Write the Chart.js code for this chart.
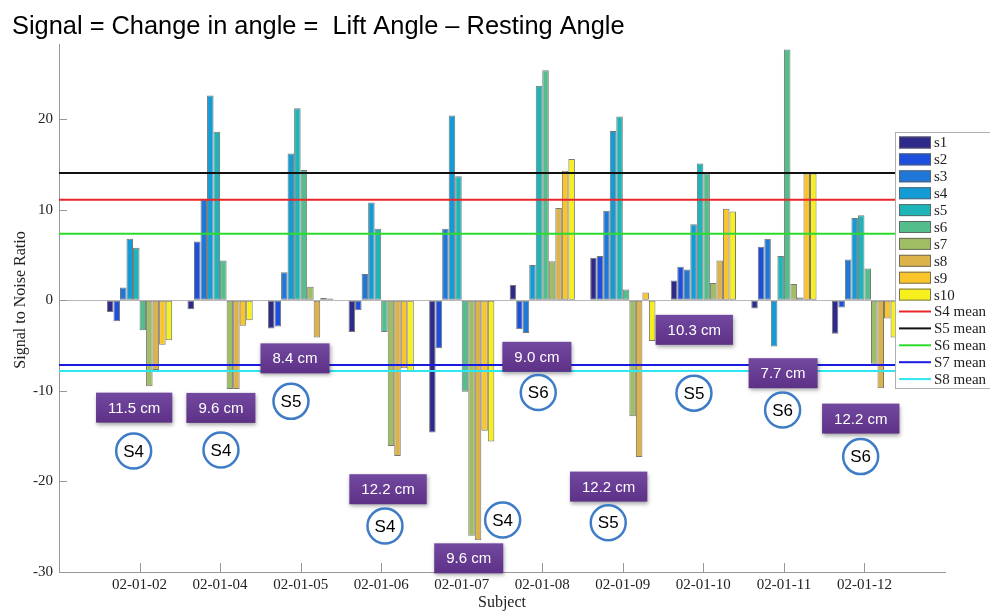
<!DOCTYPE html>
<html>
<head>
<meta charset="utf-8">
<script src="https://cdn.jsdelivr.net/npm/chart.js@4.4.0/dist/chart.umd.min.js"></script>
<style>
  html, body { margin: 0; padding: 0; background: #fff; }
  #wrap { width: 990px; height: 611px; }
</style>
</head>
<body>
<div id="wrap"><canvas id="chart" width="990" height="611"></canvas></div>
<script>
// subjects along the x axis
const subjects = ['02-01-02', '02-01-04', '02-01-05', '02-01-06', '02-01-07',
                  '02-01-08', '02-01-09', '02-01-10', '02-01-11', '02-01-12'];

// signal to noise ratio per sensor, one value per subject
const s1  = [-1.3, -1.0, -3.1, -3.5, -14.6,  1.7,   4.7,  2.2, -0.9, -3.7];
const s2  = [-2.3,  6.5, -2.9, -1.1,  -5.3, -3.2,   4.9,  3.7,  5.9, -0.8];
const s3  = [ 1.4, 11.1,  3.1,  2.9,   7.9, -3.6,   9.9,  3.4,  6.8,  4.5];
const s4  = [ 6.8, 22.6, 16.2, 10.8,  20.4,  3.9,  18.7,  8.4, -5.1,  9.1];
const s5  = [ 5.8, 18.6, 21.2,  7.9,  13.7, 23.7,  20.3, 15.1,  4.9,  9.4];
const s6  = [-3.3,  4.4, 14.4, -3.5, -10.1, 25.4,   1.2, 14.0, 27.7,  3.5];
const s7  = [-9.5, -9.8,  1.5, -16.1, -26.0, 4.3, -12.8,  1.9,  1.8, -7.0];
const s8  = [-7.7, -9.8, -4.1, -17.2, -26.5, 10.2, -17.3, 4.4,  0.3, -9.7];
const s9  = [-4.9, -2.8, 0.25, -7.5, -14.4, 14.3,  0.85, 10.1, 14.0, -2.0];
const s10 = [-4.4, -2.2, 0.2,  -7.8, -15.6, 15.6,  -4.5,  9.8, 14.0, -4.1];

const seriesNames = ['s1', 's2', 's3', 's4', 's5', 's6', 's7', 's8', 's9', 's10'];
const seriesValues = [s1, s2, s3, s4, s5, s6, s7, s8, s9, s10];
const seriesColors = ['#2e2a8a', '#1c4fdc', '#1f78d8', '#139bd6', '#1db5b8',
                      '#53bd8c', '#9fbd62', '#dcb24a', '#f9c52b', '#f7f01c'];

// mean reference lines
const meanNames = ['S4 mean', 'S5 mean', 'S6 mean', 'S7 mean', 'S8 mean'];
const meanValues = [11.1, 14.05, 7.35, -7.15, -7.8];
const meanColors = ['#e8262a', '#111111', '#2bdc2b', '#1a1ae0', '#2ee6ee'];

const yTicks = [-30, -20, -10, 0, 10, 20];

// callouts: text, x (subject units), y (value units)
const boxNotes = [
  ['11.5 cm', 0.933, -11.85], ['9.6 cm', 2.01, -11.88], ['8.4 cm', 2.93, -6.41],
  ['12.2 cm', 4.085, -20.86], ['9.6 cm', 5.087, -28.49], ['9.0 cm', 5.933, -6.24],
  ['12.2 cm', 6.824, -20.57], ['10.3 cm', 7.887, -3.26], ['7.7 cm', 8.99, -8.05],
  ['12.2 cm', 9.954, -13.06]
];
const circleNotes = [
  ['S4', 0.927, -16.63], ['S4', 2.011, -16.52], ['S5', 2.88, -11.16],
  ['S4', 4.047, -24.92], ['S4', 5.508, -24.25], ['S6', 5.95, -10.19],
  ['S5', 6.819, -24.55], ['S5', 7.883, -10.25], ['S6', 8.984, -12.1],
  ['S6', 9.953, -17.26]
];

const serif = '"Liberation Serif", "Times New Roman", serif';
const sans = '"Liberation Sans", Arial, sans-serif';

const datasets = seriesValues.map((vals, i) => ({
  type: 'bar',
  label: seriesNames[i],
  data: vals.map((v, j) => ({ x: j + 1, y: v })),
  backgroundColor: seriesColors[i],
  borderColor: 'rgba(95, 95, 95, 0.85)',
  borderWidth: 1,
  borderSkipped: false,
  categoryPercentage: 0.81,
  barPercentage: 1.0
}));

meanValues.forEach((m, i) => {
  datasets.push({
    type: 'line',
    label: meanNames[i],
    data: [{ x: 0, y: m }, { x: 11, y: m }],
    borderColor: meanColors[i],
    borderWidth: 2,
    pointRadius: 0,
    order: -1
  });
});

const overlay = {
  id: 'overlay',
  beforeDatasetsDraw(chart) {
    const { ctx, chartArea: a, scales: { x, y } } = chart;
    ctx.save();
    ctx.lineWidth = 1;
    ctx.strokeStyle = '#b8b8b8';
    const y0 = Math.round(y.getPixelForValue(0)) + 0.5;
    ctx.beginPath(); ctx.moveTo(a.left, y0); ctx.lineTo(a.right, y0); ctx.stroke();

    ctx.strokeStyle = '#999';
    yTicks.forEach(v => {
      const py = Math.round(y.getPixelForValue(v)) + 0.5;
      ctx.beginPath(); ctx.moveTo(a.left, py); ctx.lineTo(a.left + 8, py); ctx.stroke();
    });
    subjects.forEach((s, i) => {
      const px = Math.round(x.getPixelForValue(i + 1)) + 0.5;
      ctx.beginPath(); ctx.moveTo(px, a.bottom); ctx.lineTo(px, a.bottom - 9); ctx.stroke();
    });
    ctx.restore();
  },
  afterDraw(chart) {
    const { ctx, chartArea: a, scales: { x, y } } = chart;
    ctx.save();

    // title
    ctx.fillStyle = '#000';
    ctx.font = '25.4px ' + sans;
    ctx.textAlign = 'left';
    ctx.textBaseline = 'alphabetic';
    ctx.fillText('Signal = Change in angle =  Lift Angle \u2013 Resting Angle', 12, 34);

    // axis titles
    ctx.fillStyle = '#222';
    ctx.font = '16px ' + serif;
    ctx.textAlign = 'center';
    ctx.textBaseline = 'middle';
    ctx.fillText('Subject', (a.left + a.right) / 2, 603);
    ctx.save();
    ctx.translate(21, 300);
    ctx.rotate(-Math.PI / 2);
    ctx.fillText('Signal to Noise Ratio', 0, 0);
    ctx.restore();

    // purple distance boxes
    ctx.font = '15px ' + sans;
    boxNotes.forEach(([t, xv, yv]) => {
      const cx = x.getPixelForValue(xv), cy = y.getPixelForValue(yv);
      const w = ctx.measureText(t).width + 24, h = 30;
      ctx.save();
      ctx.shadowColor = 'rgba(0,0,0,0.35)';
      ctx.shadowBlur = 4;
      ctx.shadowOffsetX = 1;
      ctx.shadowOffsetY = 2;
      const g = ctx.createLinearGradient(0, cy - h / 2, 0, cy + h / 2);
      g.addColorStop(0, '#7348a0');
      g.addColorStop(1, '#5c3186');
      ctx.fillStyle = g;
      ctx.fillRect(cx - w / 2, cy - h / 2, w, h);
      ctx.restore();
      ctx.fillStyle = '#fff';
      ctx.fillText(t, cx, cy + 1);
    });

    // sensor circles
    ctx.font = '17px ' + sans;
    circleNotes.forEach(([t, xv, yv]) => {
      const cx = x.getPixelForValue(xv), cy = y.getPixelForValue(yv);
      ctx.beginPath();
      ctx.arc(cx, cy, 17.5, 0, Math.PI * 2);
      ctx.fillStyle = '#fff';
      ctx.fill();
      ctx.lineWidth = 2.5;
      ctx.strokeStyle = '#3f7cc7';
      ctx.stroke();
      ctx.fillStyle = '#000';
      ctx.fillText(t, cx, cy + 1);
    });

    // legend box
    const lx = 895, ly = 132, step = 16.9;
    ctx.fillStyle = '#fff';
    ctx.fillRect(lx, ly, 100, 256);
    ctx.strokeStyle = '#b0b0b0';
    ctx.lineWidth = 1;
    ctx.strokeRect(lx + 0.5, ly + 0.5, 100, 256);
    ctx.font = '15px ' + serif;
    ctx.textAlign = 'left';
    ctx.textBaseline = 'middle';
    seriesNames.forEach((n, i) => {
      const cy = ly + 10.5 + i * step;
      ctx.fillStyle = seriesColors[i];
      ctx.fillRect(lx + 4, cy - 6, 32, 12);
      ctx.strokeStyle = 'rgba(95,95,95,0.85)';
      ctx.strokeRect(lx + 4.5, cy - 5.5, 31, 11);
      ctx.fillStyle = '#222';
      ctx.fillText(n, lx + 39, cy + 1);
    });
    meanNames.forEach((n, i) => {
      const cy = ly + 10.5 + (i + 10) * step;
      ctx.strokeStyle = meanColors[i];
      ctx.lineWidth = 2;
      ctx.beginPath(); ctx.moveTo(lx + 4, cy); ctx.lineTo(lx + 36, cy); ctx.stroke();
      ctx.fillStyle = '#222';
      ctx.fillText(n, lx + 39, cy + 1);
    });

    ctx.restore();
  }
};

new Chart(document.getElementById('chart').getContext('2d'), {
  data: { datasets: datasets },
  options: {
    responsive: false,
    animation: false,
    devicePixelRatio: 1,
    layout: { padding: { top: 44, right: 45, left: 0, bottom: 0 } },
    plugins: {
      legend: { display: false },
      tooltip: { enabled: false },
      title: { display: false }
    },
    scales: {
      x: {
        type: 'linear',
        min: 0,
        max: 11,
        offset: false,
        afterBuildTicks: s => { s.ticks = subjects.map((n, i) => ({ value: i + 1 })); },
        afterFit: s => { s.height = 39; },
        ticks: {
          autoSkip: false,
          maxRotation: 0,
          padding: 4,
          color: '#222',
          font: { family: serif, size: 15 },
          callback: v => subjects[v - 1] || ''
        },
        grid: { drawOnChartArea: false, drawTicks: false, offset: false },
        border: { color: '#999', width: 1 }
      },
      y: {
        type: 'linear',
        min: -30,
        max: 28.3,
        afterBuildTicks: s => { s.ticks = yTicks.map(v => ({ value: v })); },
        afterFit: s => { s.width = 59; },
        ticks: {
          padding: 6,
          color: '#222',
          font: { family: serif, size: 15 }
        },
        grid: { drawOnChartArea: false, drawTicks: false },
        border: { color: '#999', width: 1 }
      }
    }
  },
  plugins: [overlay]
});
</script>
</body>
</html>
